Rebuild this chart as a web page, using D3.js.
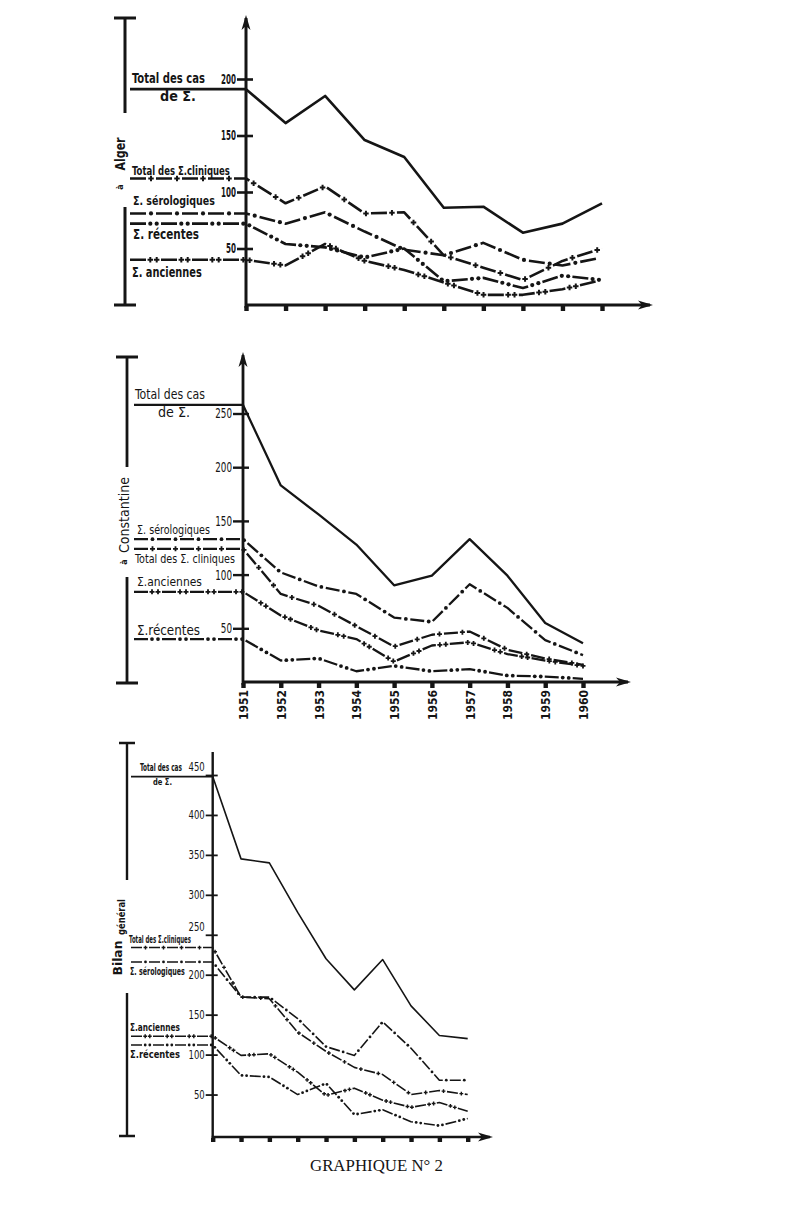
<!DOCTYPE html>
<html><head><meta charset="utf-8">
<script src="https://cdn.jsdelivr.net/npm/d3@7"></script>
<style>body{margin:0;background:#fff} svg{display:block}</style>
</head><body>
<svg id="c" width="800" height="1211"></svg>
<script>
// ---------- DATA ----------
const years = [1951,1952,1953,1954,1955,1956,1957,1958,1959,1960];

// Alger
const algerTotal     = [191,161,185,146,131, 86, 87, 64, 72, 90];
const algerCliniques = [112, 90,105, 81, 82, 44, 33, 22, 39, 50];
const algerSero      = [ 81, 72, 82, 65, 49, 44, 55, 40, 35, 42];
const algerRecentes  = [ 72, 54, 51, 42, 50, 21, 24, 15, 26, 22];
const algerAnciennes = [ 40, 35, 54, 39, 31, 20,  9,  9, 14, 22];

// Constantine
const constTotal     = [258,183,156,128, 90, 99,133, 99, 55, 36];
const constSero      = [133,102, 89, 82, 60, 56, 91, 69, 39, 25];
const constCliniques = [124, 82, 71, 52, 33, 44, 47, 30, 22, 16];
const constAnciennes = [ 84, 62, 48, 40, 19, 34, 37, 26, 20, 15];
const constRecentes  = [ 40, 20, 22, 10, 15, 10, 12,  6,  5,  3];

// Bilan général
const bilanTotal     = [448,345,340,278,220,181,219,161,124,120];
const bilanSero      = [216,172,172,145,110, 99,141,108, 68, 68];
const bilanCliniques = [234,172,170,128,104, 84, 75, 50, 55, 50];
const bilanAnciennes = [123, 99,101, 78, 49, 58, 43, 34, 40, 29];
const bilanRecentes  = [112, 74, 72, 50, 64, 25, 31, 16, 11, 20];

const algerTicks = [50,100,150,200];
const constTicks = [50,100,150,200,250];
const bilanTicks = [50,100,150,200,250,300,350,400,450];

// ---------- STYLE ----------
const INK = '#151515';
const FONT = "'DejaVu Sans Condensed','Liberation Sans Narrow','Arial Narrow','DejaVu Sans',sans-serif";
const STY = {
  total: {marker:null},
  clin:  {marker:'plus', n:1},
  sero:  {marker:'dot',  n:1},
  rec:   {marker:'dot',  n:2},
  anc:   {marker:'plus', n:2}
};

const svg = d3.select('#c');

// squeeze a text horizontally to a target width with a transform (keeps real bbox)
function squeeze(sel, target, pre) {
  sel.each(function(d) {
    const w = this.getComputedTextLength();
    const tw = typeof target === 'function' ? target(d) : target;
    const sx = (w > 0 && tw > 0) ? Math.min(1.2, tw / w) : 1;
    d3.select(this).attr('transform', `${pre ? pre(d) : ''} scale(${sx},1)`);
  });
}

function addText(g, o) {
  const t = g.append('text').attr('x', 0).attr('y', 0)
    .attr('font-family', o.serif ? "'Liberation Serif','DejaVu Serif',serif" : FONT)
    .attr('font-size', o.size).attr('font-weight', o.bold ? 'bold' : 'normal')
    .attr('fill', INK).text(o.t);
  if (o.rot) {
    t.attr('text-anchor','middle').attr('dominant-baseline','central');
    squeeze(t, o.len || 0, () => `translate(${o.x},${o.y}) rotate(-90)`);
  } else {
    squeeze(t, o.len || 0, () => `translate(${o.x},${o.y})`);
  }
  return t;
}

function marker(g, p, type, sc) {
  if (type === 'dot') {
    g.append('circle').attr('cx', p.x).attr('cy', p.y).attr('r', sc.dotR).attr('fill', INK);
  } else {
    const h = sc.mk / 2;
    g.append('path').attr('d', `M${p.x-h},${p.y}H${p.x+h}M${p.x},${p.y-h}V${p.y+h}`)
      .attr('stroke', INK).attr('stroke-width', sc.mkW).attr('fill','none');
  }
}

function styledLine(g, pts, st, sc) {
  const path = g.append('path').attr('d', d3.line()(pts)).attr('fill','none')
    .attr('stroke', INK).attr('stroke-width', sc.sw)
    .attr('stroke-linejoin','round').attr('stroke-linecap','butt');
  if (!st.marker) return;
  const gap = st.n === 2 ? sc.gap2 : sc.gap;
  path.attr('stroke-dasharray', `${sc.dash} ${gap}`);
  const node = path.node();
  const L = node.getTotalLength();
  const offs = st.n === 2 ? [-sc.sp, sc.sp] : [0];
  for (let s = sc.dash + gap / 2; s < L - 2; s += sc.dash + gap) {
    offs.forEach(o => marker(g, node.getPointAtLength(s + o), st.marker, sc));
  }
}

function drawPanel(p) {
  const g = svg.append('g');
  const x = d3.scaleLinear().domain([years[0], years[years.length-1]]).range([p.x0, p.x1]);
  const y = d3.scaleLinear().domain(p.yDomain).range(p.yRange);

  // series
  p.series.forEach(s => {
    const pts = [[p.legendX, y(s.vals[0])]].concat(years.map((yr, i) => [x(yr), y(s.vals[i])]));
    styledLine(g, pts, STY[s.st], p);
  });

  // axes lines
  g.append('line').attr('x1', p.x0).attr('x2', p.x0).attr('y1', p.yBase + 3).attr('y2', p.yTop)
    .attr('stroke', INK).attr('stroke-width', p.axisW);
  g.append('line').attr('x1', p.x0 - 1).attr('x2', p.xArrow).attr('y1', p.yBase).attr('y2', p.yBase)
    .attr('stroke', INK).attr('stroke-width', p.axisW);
  if (p.arrowTop) {
    g.append('path').attr('d', `M${p.x0},${p.yTop-3}L${p.x0-4.5},${p.yTop+12}L${p.x0},${p.yTop+8}L${p.x0+4.5},${p.yTop+12}Z`).attr('fill', INK);
  }
  g.append('path').attr('d', `M${p.xArrow+3},${p.yBase}L${p.xArrow-12},${p.yBase-4.5}L${p.xArrow-8},${p.yBase}L${p.xArrow-12},${p.yBase+4.5}Z`).attr('fill', INK);

  // y axis ticks
  const ya = g.append('g').attr('transform', `translate(${p.x0},0)`)
    .call(d3.axisLeft(y).tickValues(p.ticks).tickSize(p.tickL).tickPadding(p.labelGap));
  ya.select('.domain').remove();
  ya.selectAll('.tick line').attr('x1', p.tickR).attr('x2', -p.tickL).attr('stroke', INK).attr('stroke-width', p.tickW);
  const tt = ya.selectAll('.tick text').attr('font-family', FONT).attr('font-size', p.tickFont)
    .attr('font-weight', p.tickBold ? 'bold' : 'normal').attr('fill', INK)
    .attr('x', 0).attr('y', 0).attr('text-anchor', 'end');
  squeeze(tt, d => String(d).length * p.digitW,
    d => `translate(${-p.tickL - p.labelGap},${(p.tickShift && p.tickShift[d]) || 0})`);

  // x axis ticks
  const xa = g.append('g').attr('transform', `translate(0,${p.yBase})`)
    .call(d3.axisBottom(x).tickValues(years).tickSize(0).tickFormat(p.yearLabels ? d3.format('d') : () => ''));
  xa.select('.domain').remove();
  xa.selectAll('.tick').append('rect').attr('x', -2.2).attr('y', 1).attr('width', 4.4).attr('height', p.sqH).attr('fill', INK);
  if (p.yearLabels) {
    const yl = xa.selectAll('.tick text').attr('x', 0).attr('y', 0).attr('dy','0.35em')
      .attr('text-anchor','end').attr('font-family', FONT).attr('font-size', 13).attr('font-weight','bold')
      .attr('fill', INK);
    squeeze(yl, 30, () => 'rotate(-90) translate(-8,0)');
  } else {
    xa.selectAll('.tick text').remove();
  }

  // bracket
  const b = p.bracket;
  g.append('path').attr('d',
    `M${b.x-b.serif},${b.top}H${b.x+b.serif}M${b.x},${b.top}V${b.upEnd}M${b.x},${b.lowStart}V${b.bottom}M${b.x-b.serif},${b.bottom}H${b.x+b.serif}`)
    .attr('stroke', INK).attr('stroke-width', p.axisW).attr('fill','none');

  p.texts.forEach(o => addText(g, o));
}

const panels = [
  { // Alger
    x0:246, x1:602, xArrow:650, yBase:305, yTop:18, arrowTop:true,
    yDomain:[0,200], yRange:[305,79], ticks:algerTicks,
    tickFont:14, tickBold:true, digitW:5, tickL:9, tickR:7, tickW:2.6, labelGap:1,
    sw:2.6, axisW:3, dash:16, gap:10, gap2:15, sp:3.2, mk:5.5, mkW:2, dotR:2.1, sqH:5,
    legendX:130, yearLabels:false,
    series:[{vals:algerTotal, st:'total'},{vals:algerCliniques, st:'clin'},{vals:algerSero, st:'sero'},
            {vals:algerRecentes, st:'rec'},{vals:algerAnciennes, st:'anc'}],
    bracket:{x:125, top:18, bottom:305, upEnd:113, lowStart:207, serif:11},
    texts:[
      {t:'Total des cas', x:132, y:83, size:14, len:73, bold:true},
      {t:'de Σ.', x:160, y:101, size:14, len:36, bold:true},
      {t:'Total des Σ.cliniques', x:132, y:175, size:13, len:98, bold:true},
      {t:'Σ. sérologiques', x:133, y:205, size:13, len:82, bold:true},
      {t:'Σ. récentes', x:133, y:239, size:14, len:66, bold:true},
      {t:'Σ. anciennes', x:132, y:277, size:14, len:70, bold:true},
      {t:'Alger', x:120, y:154, size:14, len:33, bold:true, rot:true},
      {t:'à', x:120, y:187, size:9, bold:true, rot:true}
    ]
  },
  { // Constantine
    x0:243, x1:583, xArrow:628, yBase:682, yTop:355, arrowTop:true,
    yDomain:[0,250], yRange:[682,413.5], ticks:constTicks,
    tickFont:14, tickBold:false, digitW:5.6, tickL:10, tickR:6, tickW:2.4, labelGap:1,
    sw:2.3, axisW:2.8, dash:14, gap:9, gap2:14, sp:3, mk:5, mkW:1.8, dotR:1.9, sqH:5,
    legendX:134, yearLabels:true,
    series:[{vals:constTotal, st:'total'},{vals:constCliniques, st:'clin'},{vals:constSero, st:'sero'},
            {vals:constRecentes, st:'rec'},{vals:constAnciennes, st:'anc'}],
    bracket:{x:127, top:357, bottom:683, upEnd:467, lowStart:577, serif:11},
    texts:[
      {t:'Total des cas', x:135, y:399, size:14, len:70},
      {t:'de Σ.', x:158, y:417, size:14, len:32},
      {t:'Σ. sérologiques', x:137, y:534, size:13, len:73},
      {t:'Total des Σ. cliniques', x:135, y:563, size:12, len:100},
      {t:'Σ.anciennes', x:137, y:586, size:13, len:65},
      {t:'Σ.récentes', x:137, y:635, size:14, len:63},
      {t:'Constantine', x:124, y:515, size:14, len:76, rot:true},
      {t:'à', x:124, y:562, size:9, bold:true, rot:true}
    ]
  },
  { // Bilan général
    x0:212.7, x1:467.7, xArrow:490, yBase:1137, yTop:752, arrowTop:false,
    yDomain:[0,450], yRange:[1134.5,775], ticks:bilanTicks, tickShift:{450:-8, 250:-8},
    tickFont:12, tickBold:false, digitW:5.4, tickL:7, tickR:5, tickW:1.8, labelGap:1,
    sw:1.6, axisW:2.4, dash:11, gap:7, gap2:11, sp:2.3, mk:3.8, mkW:1.4, dotR:1.4, sqH:4,
    legendX:131, yearLabels:false,
    series:[{vals:bilanTotal, st:'total'},{vals:bilanCliniques, st:'clin'},{vals:bilanSero, st:'sero'},
            {vals:bilanRecentes, st:'rec'},{vals:bilanAnciennes, st:'anc'}],
    bracket:{x:127, top:743, bottom:1136, upEnd:880, lowStart:993, serif:8},
    texts:[
      {t:'Total des cas', x:140, y:771, size:10, len:42, bold:true},
      {t:'de Σ.', x:153, y:785, size:9, len:19, bold:true},
      {t:'Total des Σ.cliniques', x:129, y:943, size:10, len:62, bold:true},
      {t:'Σ. sérologiques', x:130, y:975, size:10, len:55, bold:true},
      {t:'Σ.anciennes', x:130, y:1031, size:10, len:50, bold:true},
      {t:'Σ.récentes', x:130, y:1058, size:11, len:50, bold:true},
      {t:'Bilan', x:118, y:958, size:13, len:35, bold:true, rot:true},
      {t:'général', x:121, y:917, size:10, len:36, bold:true, rot:true},
      {t:'GRAPHIQUE N° 2', x:310, y:1171, size:17, len:133, serif:true}
    ]
  }
];

panels.forEach(drawPanel);
</script>
</body></html>
